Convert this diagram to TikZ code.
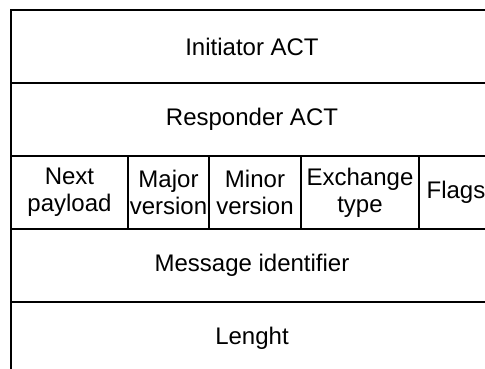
\documentclass[tikz,border=0pt]{standalone}
\usepackage{fontspec}
\setmainfont{Liberation Sans}
\usetikzlibrary{positioning}

\begin{document}
\begin{tikzpicture}[x=1pt,y=-1pt,
    cell/.style={draw, line width=1.8pt, outer sep=0pt, inner sep=0pt,
      anchor=north west, align=center, minimum height=73pt,
      font=\fontsize{24}{27}\selectfont}]
    \useasboundingbox (0,0) rectangle (485,369);
    \node[cell, minimum width=482pt] (init) at (11,10) {Initiator ACT};
    \node[cell, minimum width=482pt] (resp) at (11,83) {Responder ACT};
    \node[cell, minimum width=117pt] (next) at (11,156) {Next\\payload};
    \node[cell, minimum width=81pt] (major) at (128,156) {Major\\version};
    \node[cell, minimum width=92pt] (minor) at (209,156) {Minor\\version};
    \node[cell, minimum width=118pt] (exch) at (301,156) {Exchange\\type};
    \node[cell, minimum width=74pt] (flags) at (419,156) {Flags};
    \node[cell, minimum width=482pt] (msgid) at (11,229) {Message identifier};
    \node[cell, minimum width=482pt] (len) at (11,302) {Lenght};
  \end{tikzpicture}
\end{document}
